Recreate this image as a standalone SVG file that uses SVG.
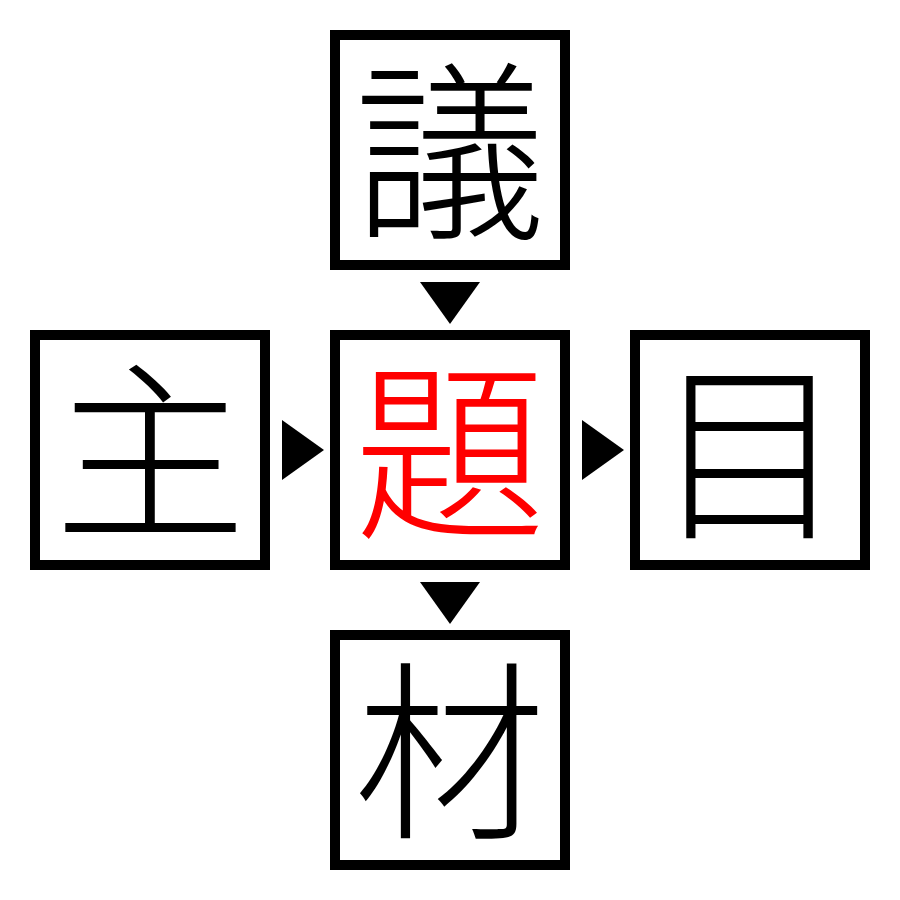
<svg xmlns="http://www.w3.org/2000/svg" width="900" height="900" viewBox="0 0 900 900">
<style>
.box{fill:#fff;stroke:#000;stroke-width:10}
.ch{font-family:"Noto Sans CJK JP","Noto Sans CJK SC",sans-serif;font-size:192px;font-weight:300;text-anchor:middle;fill:#000}
.red{fill:#ff0000}
.arr{fill:#000}
</style>
<rect width="900" height="900" fill="#fff"/>
<g id="connectors">
<polygon class="arr" points="420,282 480,282 450,324"/>
<polygon class="arr" points="420,582 480,582 450,624"/>
<polygon class="arr" points="282,420 282,480 324,450"/>
<polygon class="arr" points="582,420 582,480 624,450"/>
</g>
<g id="node-top"><rect class="box" x="335" y="35" width="230" height="230"/><text class="ch" x="450" y="224">議</text></g>
<g id="node-left"><rect class="box" x="35" y="335" width="230" height="230"/><text class="ch" x="150" y="524">主</text></g>
<g id="node-center"><rect class="box" x="335" y="335" width="230" height="230"/><text class="ch red" x="450" y="524">題</text></g>
<g id="node-right"><rect class="box" x="635" y="335" width="230" height="230"/><text class="ch" x="750" y="524">目</text></g>
<g id="node-bottom"><rect class="box" x="335" y="635" width="230" height="230"/><text class="ch" x="450" y="824">材</text></g>
</svg>
